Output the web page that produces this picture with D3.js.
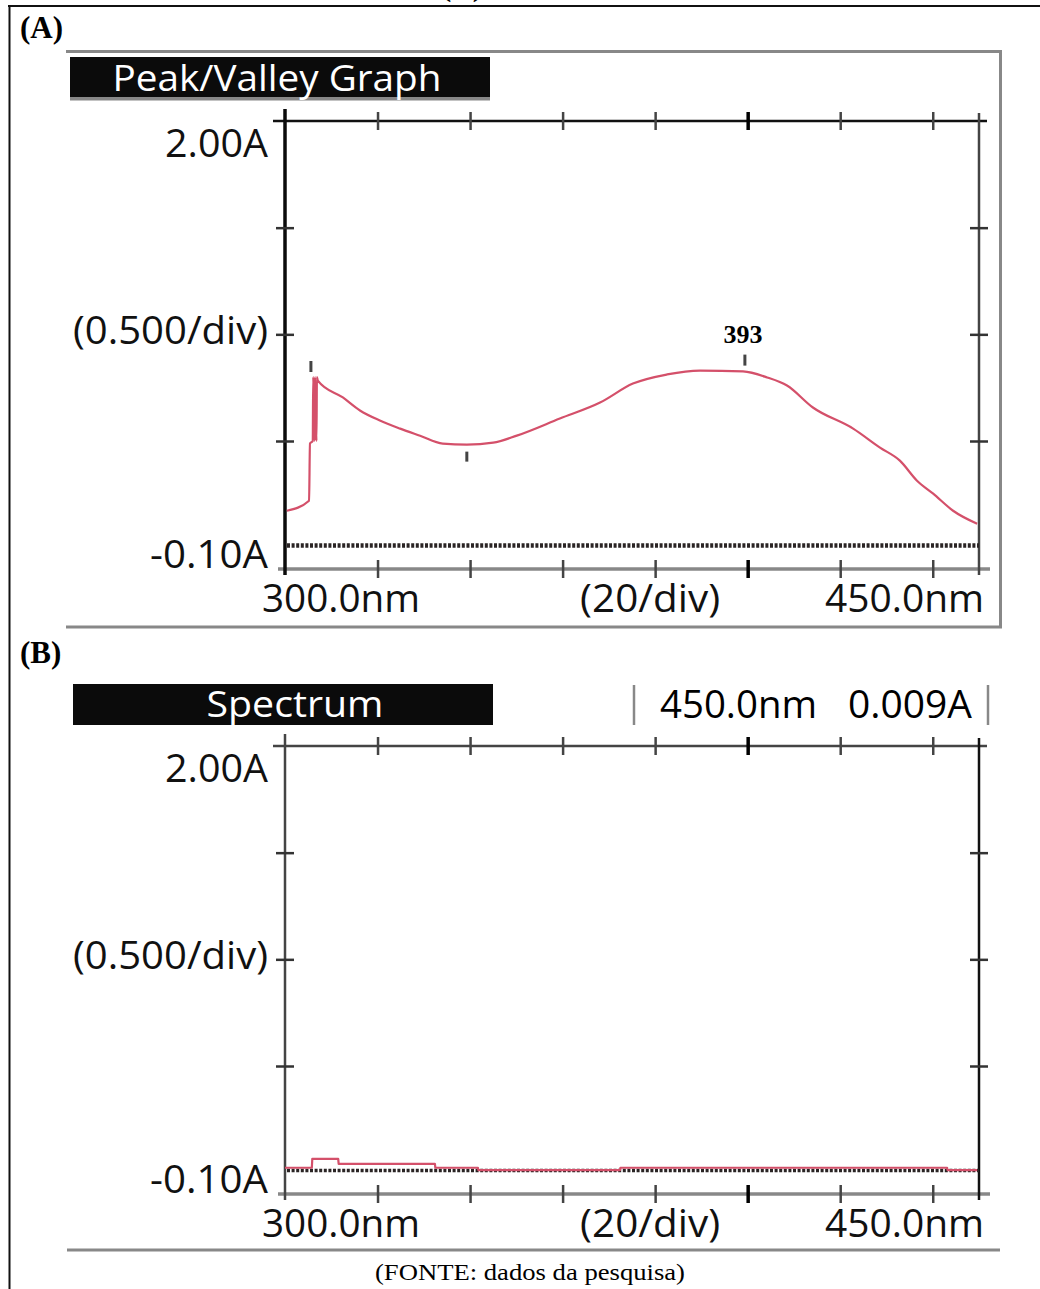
<!DOCTYPE html>
<html>
<head>
<meta charset="utf-8">
<script src="https://cdn.jsdelivr.net/npm/d3@7"></script>
<style>
  body { margin: 0; background: #fff; }
</style>
</head>
<body>
<div id="chart"></div>
<script>
// (A) peak/valley graph: wavelength (nm) and absorbance (A)
var nmA = [300.4, 305.2, 305.4, 306.0, 306.1, 306.4, 306.5, 306.8, 306.9, 307.1, 312.5, 316.2, 320.5, 324.9, 329.2,
           334.1, 339.3, 345.0, 350.1, 359.4, 368.1, 375.2, 382.6, 389.7, 399.0, 404.2, 408.5, 414.1,
           422.8, 428.6, 432.9, 436.6, 440.1, 444.4, 449.6];
var absA = [0.173, 0.220, 0.488, 0.50, 0.80, 0.50, 0.80, 0.50, 0.80, 0.783, 0.704, 0.643, 0.596, 0.558, 0.525,
            0.488, 0.483, 0.492, 0.525, 0.605, 0.680, 0.769, 0.812, 0.830, 0.826, 0.798, 0.760, 0.657,
            0.558, 0.469, 0.408, 0.314, 0.253, 0.173, 0.112];

// (B) spectrum
var nmB = [300.0, 305.8, 305.9, 311.5, 311.6, 332.4, 332.5, 341.7, 341.8, 372.4, 372.5, 443.1, 443.2, 449.6];
var absB = [0.023, 0.023, 0.065, 0.065, 0.041, 0.041, 0.023, 0.023, 0.012, 0.012, 0.023, 0.023, 0.012, 0.012];

// peak / valley marks on (A)
var peaksNm = [305.6, 399.4];
var peaksAbs = [0.80, 0.83];
var peakLabels = ["", "393"];
var valleysNm = [339.3];
var valleysAbs = [0.483];

var baselineAbs = 0.01;

// axis ticks and labels
var xTicks = [320, 340, 360, 380, 400, 420, 440];
var yTicks = [1.5, 1.0, 0.5];
var yLabels = ["2.00A", "(0.500/div)", "-0.10A"];
var xLabels = ["300.0nm", "(20/div)", "450.0nm"];
var titles = ["Peak/Valley Graph", "Spectrum"];
var panelTags = ["(A)", "(B)"];
var readout = ["450.0nm", "0.009A"];
var source = "(FONTE: dados da pesquisa)";

var svgWidth = 1040, svgHeight = 1289;
var svg = d3.select("#chart").append("svg")
    .attr("width", svgWidth)
    .attr("height", svgHeight);

var sans = "'Open Sans', 'Noto Sans', sans-serif";
var serif = "'Liberation Serif', 'Times New Roman', serif";
var lineColor = "#d4506a";

// page border
svg.append("line").attr("x1", 8).attr("x2", 1040).attr("y1", 6).attr("y2", 6)
    .attr("stroke", "#111").attr("stroke-width", 2);
svg.append("line").attr("x1", 9.5).attr("x2", 9.5).attr("y1", 5).attr("y2", svgHeight)
    .attr("stroke", "#111").attr("stroke-width", 2);
// tag of the panel above, cut by the page edge
svg.append("text").attr("x", 462).attr("y", -4).attr("text-anchor", "middle")
    .attr("font-family", serif).attr("font-weight", "bold").attr("font-size", 30)
    .text(panelTags[0]);

// frame around panel A
svg.append("path")
    .attr("d", "M66,51.5 H1000.5 V627 H66")
    .attr("fill", "none").attr("stroke", "#888").attr("stroke-width", 3);
// line under panel B
svg.append("line").attr("x1", 67).attr("x2", 1000).attr("y1", 1250).attr("y2", 1250)
    .attr("stroke", "#888").attr("stroke-width", 3);

// source note
svg.append("text").attr("x", 530).attr("y", 1280).attr("text-anchor", "middle")
    .attr("font-family", serif).attr("font-size", 23)
    .attr("textLength", 310).attr("lengthAdjust", "spacingAndGlyphs")
    .text(source);

var x = d3.scaleLinear().domain([300, 450]).range([285, 979]);

function drawPanel(off, idx, nm, abs, isA) {
    var g = svg.append("g").attr("transform", `translate(0, ${off})`);
    var y = d3.scaleLinear().domain([-0.1, 2.0]).range([569, 121]);

    // panel tag
    g.append("text").attr("x", 20).attr("y", 38)
        .attr("font-family", serif).attr("font-weight", "bold").attr("font-size", 31)
        .text(panelTags[idx]);

    // title box
    var bx = isA ? 70 : 73;
    g.append("rect").attr("x", bx).attr("y", isA ? 57 : 59).attr("width", 420).attr("height", isA ? 40 : 41)
        .attr("fill", "#0b0b0b");
    if (isA) {
        g.append("rect").attr("x", 70).attr("y", 97).attr("width", 420).attr("height", 3.5).attr("fill", "#888");
    }
    g.append("text")
        .attr("x", isA ? 277 : 295).attr("y", isA ? 91 : 92)
        .attr("text-anchor", "middle").attr("fill", "#fff")
        .attr("font-family", sans).attr("font-size", 37)
        .attr("textLength", isA ? 329 : 177).attr("lengthAdjust", "spacingAndGlyphs")
        .text(titles[idx]);

    if (!isA) {
        // readout box
        [634, 988].forEach(function(bxx) {
            g.append("line").attr("x1", bxx).attr("x2", bxx).attr("y1", 60).attr("y2", 100)
                .attr("stroke", "#888").attr("stroke-width", 2.5);
        });
        g.append("text").attr("x", 660).attr("y", 93).attr("font-family", sans).attr("font-size", 38)
            .attr("textLength", 157).attr("lengthAdjust", "spacingAndGlyphs").text(readout[0]);
        g.append("text").attr("x", 848).attr("y", 93).attr("font-family", sans).attr("font-size", 38)
            .attr("textLength", 124).attr("lengthAdjust", "spacingAndGlyphs").text(readout[1]);
    }

    // axes
    var top = g.append("g").attr("transform", `translate(0, ${y(2.0)})`)
        .call(d3.axisTop(x).tickValues(xTicks).tickSize(0).tickSizeOuter(0).tickFormat(""));
    var bottom = g.append("g").attr("transform", `translate(0, ${y(-0.1)})`)
        .call(d3.axisBottom(x).tickValues(xTicks).tickSize(0).tickSizeOuter(0).tickFormat(""));
    var left = g.append("g").attr("transform", `translate(${x(300)}, 0)`)
        .call(d3.axisLeft(y).tickValues(yTicks).tickSize(0).tickSizeOuter(0).tickFormat(""));
    var right = g.append("g").attr("transform", `translate(${x(450)}, 0)`)
        .call(d3.axisRight(y).tickValues(yTicks).tickSize(0).tickSizeOuter(0).tickFormat(""));

    top.select(".domain").attr("d", `M${x(300) - 12},0 H${x(450) + 8}`)
        .attr("stroke", isA ? "#111" : "#444").attr("stroke-width", 2.5);
    bottom.select(".domain").attr("d", `M${x(300) - 7},0 H${x(450) + 11}`)
        .attr("stroke", "#888").attr("stroke-width", 3.5);
    left.select(".domain").attr("d", `M0,${y(2.0) - 12} V${y(-0.1) + 6}`)
        .attr("stroke", isA ? "#0b0b0b" : "#444").attr("stroke-width", isA ? 3.5 : 2.5);
    right.select(".domain").attr("d", `M0,${y(2.0) - 8} V${y(-0.1) + 6}`)
        .attr("stroke", isA ? "#444" : "#111").attr("stroke-width", 2.5);

    [top, bottom].forEach(function(ax) {
        ax.selectAll(".tick line")
            .attr("y1", -9).attr("y2", 9)
            .attr("stroke", function(d) { return d === 400 ? "#000" : "#444"; })
            .attr("stroke-width", function(d) { return d === 400 ? 3.5 : 2.5; });
    });
    [left, right].forEach(function(ax) {
        ax.selectAll(".tick line")
            .attr("x1", -9).attr("x2", 9)
            .attr("stroke", "#333").attr("stroke-width", 2.5);
    });

    // axis labels
    var yl = g.append("g").attr("font-family", sans).attr("font-size", 38).attr("fill", "#111")
        .attr("text-anchor", "end");
    yl.append("text").attr("x", 268).attr("y", y(2.0) + 36)
        .attr("textLength", 103).attr("lengthAdjust", "spacingAndGlyphs").text(yLabels[0]);
    yl.append("text").attr("x", 268).attr("y", y(1.0) + 10)
        .attr("textLength", 195).attr("lengthAdjust", "spacingAndGlyphs").text(yLabels[1]);
    yl.append("text").attr("x", 268).attr("y", y(-0.1) - 1)
        .attr("textLength", 118).attr("lengthAdjust", "spacingAndGlyphs").text(yLabels[2]);

    var xl = g.append("g").attr("font-family", sans).attr("font-size", 38).attr("fill", "#111");
    xl.append("text").attr("x", x(300) - 23).attr("y", 612)
        .attr("textLength", 158).attr("lengthAdjust", "spacingAndGlyphs").text(xLabels[0]);
    xl.append("text").attr("x", x(380) - 5).attr("y", 612).attr("text-anchor", "middle")
        .attr("textLength", 140).attr("lengthAdjust", "spacingAndGlyphs").text(xLabels[1]);
    xl.append("text").attr("x", x(450) + 5).attr("y", 612).attr("text-anchor", "end")
        .attr("textLength", 159).attr("lengthAdjust", "spacingAndGlyphs").text(xLabels[2]);

    // dotted baseline
    g.append("line")
        .attr("x1", x(300) + 2).attr("x2", x(450))
        .attr("y1", y(baselineAbs)).attr("y2", y(baselineAbs))
        .attr("stroke", "#2a2424").attr("stroke-width", isA ? 4.5 : 3.5)
        .attr("stroke-dasharray", "3,1.6");

    // spectrum curve
    var pts = nm.map(function(d, i) { return [d, abs[i]]; });
    var line = d3.line()
        .x(function(d) { return x(d[0]); })
        .y(function(d) { return y(d[1]); })
        .curve(isA ? d3.curveMonotoneX : d3.curveLinear);
    g.append("path").datum(pts)
        .attr("d", line)
        .attr("fill", "none").attr("stroke", lineColor).attr("stroke-width", 2.2)
        .attr("stroke-linejoin", "round");

    if (isA) {
        // peak and valley marks
        var marks = g.append("g").attr("stroke", "#444").attr("stroke-width", 3);
        peaksNm.forEach(function(p, i) {
            marks.append("line").attr("x1", x(p)).attr("x2", x(p))
                .attr("y1", y(peaksAbs[i]) - 16).attr("y2", y(peaksAbs[i]) - 5);
            if (peakLabels[i]) {
                g.append("text").attr("x", x(p) - 2).attr("y", y(peaksAbs[i]) - 28)
                    .attr("text-anchor", "middle")
                    .attr("font-family", serif).attr("font-weight", "bold").attr("font-size", 26)
                    .text(peakLabels[i]);
            }
        });
        valleysNm.forEach(function(v, i) {
            marks.append("line").attr("x1", x(v)).attr("x2", x(v))
                .attr("y1", y(valleysAbs[i]) + 7).attr("y2", y(valleysAbs[i]) + 17);
        });
    }
}

drawPanel(0, 0, nmA, absA, true);
drawPanel(625, 1, nmB, absB, false);
</script>
</body>
</html>
